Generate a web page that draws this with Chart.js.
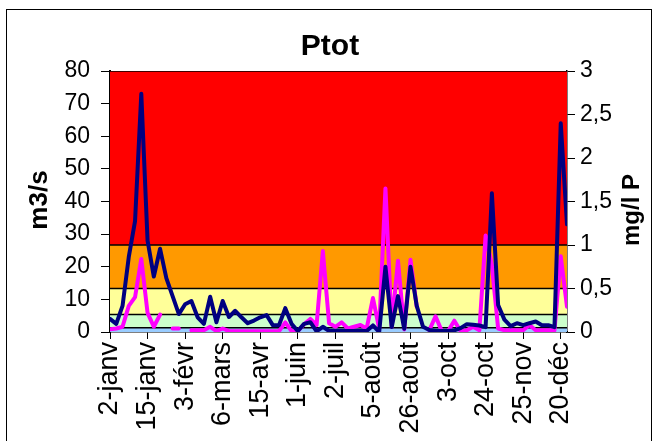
<!DOCTYPE html>
<html>
<head>
<meta charset="utf-8">
<script src="https://cdn.jsdelivr.net/npm/chart.js@4/dist/chart.umd.min.js"></script>
<style>
  html, body { margin: 0; padding: 0; background: #fff; }
  #wrap { width: 660px; height: 441px; position: relative; }
</style>
</head>
<body>
<div id="wrap"><canvas id="ptotCanvas"></canvas></div>
<script>
// dates shown on the x axis (one label every 6 samples)
const tickLabels = ['2-janv', '15-janv', '3-févr', '6-mars', '15-avr', '1-juin', '2-juil',
                    '5-août', '26-août', '3-oct', '24-oct', '25-nov', '20-déc'];

// débit (m3/s), left axis
const flow = [4, 2.5, 8, 23, 34, 73, 28, 17, 25.5, 16.5,
              11, 5.5, 8.5, 9.5, 4.5, 2.5, 10.8, 3, 9.5, 4.6,
              6.5, 4.5, 2.7, 3.5, 4.5, 5.2, 2.1, 2.1, 7.3, 2.5,
              0.3, 2.5, 3, 0.2, 1.6, 0.3, 0.3, 0.3, 0.3, 0.3,
              0.3, 0.3, 2, 0, 20, 1.5, 11, 1, 20, 8,
              1.6, 0.6, 0.3, 0.3, 0.3, 0.5, 1.2, 2.4, 2.2, 2,
              1.5, 42.5, 8.3, 3.8, 1.8, 2.7, 2.1, 2.7, 3.2, 2.1,
              2.1, 1.5, 64, 33];

// phosphore total (mg/l P), right axis - null = no sample
const ptot = [0.03, 0.04, 0.06, 0.3, 0.4, 0.84, 0.22, 0.06, 0.2, null,
              0.04, 0.04, null, 0.02, 0.02, 0.02, 0.06, 0.01, 0.04, 0.01,
              0.01, 0.01, 0.01, 0.01, 0.01, 0.01, 0.01, 0.01, 0.11, 0.01,
              0.01, 0.09, 0.15, 0.08, 0.93, 0.1, 0.06, 0.11, 0.04, 0.06,
              0.08, 0.04, 0.39, 0.04, 1.65, 0.06, 0.82, 0.03, 0.83, 0.29,
              null, 0.02, 0.18, 0.01, 0.01, 0.13, 0.01, 0.02, 0.06, 0.02,
              1.11, 0.77, 0.04, 0.02, 0.02, 0.02, 0.02, 0.08, 0.02, 0.02,
              0.02, 0.02, 0.87, 0.29];

// quality classes (upper limit in mg/l P) and their colours
const classLimits = [0.05, 0.2, 0.5, 1, 3];
const classColors = ['#99CCFF', '#CCFFCC', '#FFFF99', '#FF9900', '#FF0000'];

const FONT = '"Liberation Sans", Arial, sans-serif';
Chart.defaults.font.family = FONT;
Chart.defaults.color = '#000';

const toPoints = arr => arr.map((v, i) => ({ x: i, y: v }));

// class bands drawn as stacked areas on the right axis
const bandSets = classLimits.map((lim, k) => ({
  label: 'classe ' + k,
  data: flow.map((_, i) => ({ x: i, y: lim })),
  yAxisID: 'yP',
  borderColor: '#000',
  borderWidth: 1.5,
  backgroundColor: classColors[k],
  fill: k === 0 ? 'origin' : '-1',
  pointRadius: 0,
  order: 1
}));

// frame round the chart + the two axis titles (both read bottom to top)
const framePlugin = {
  id: 'framePlugin',
  afterDraw(chart) {
    const c = chart.ctx;
    c.save();
    c.strokeStyle = '#000';
    c.lineWidth = 1;
    c.strokeRect(6.5, 9.5, 645, 445);
    c.fillStyle = '#000';
    c.font = 'bold 26px ' + FONT;
    c.textAlign = 'center';
    c.textBaseline = 'middle';
    c.translate(40, 200);
    c.rotate(-Math.PI / 2);
    c.fillText('m3/s', 0, 0);
    c.restore();
    c.save();
    c.fillStyle = '#000';
    c.font = 'bold 24px ' + FONT;
    c.textAlign = 'center';
    c.textBaseline = 'middle';
    c.translate(632, 210);
    c.rotate(-Math.PI / 2);
    c.fillText('mg/l P', 0, 0);
    c.restore();
  }
};

function drawGraph() {
  const ctx = document.getElementById('ptotCanvas').getContext('2d');
  new Chart(ctx, {
    type: 'line',
    data: {
      datasets: [
        {
          label: 'm3/s',
          data: toPoints(flow),
          yAxisID: 'yQ',
          borderColor: '#000080',
          borderWidth: 4,
          pointRadius: 0,
          fill: false,
          borderJoinStyle: 'round',
          borderCapStyle: 'round',
          order: 0
        },
        {
          label: 'Ptot',
          data: toPoints(ptot),
          yAxisID: 'yP',
          borderColor: '#FF00FF',
          borderWidth: 4,
          pointRadius: 0,
          fill: false,
          spanGaps: false,
          borderJoinStyle: 'round',
          borderCapStyle: 'round',
          order: 0
        },
        ...bandSets
      ]
    },
    options: {
      responsive: true,
      maintainAspectRatio: false,
      animation: false,
      layout: { padding: 0 },
      plugins: {
        legend: { display: false },
        tooltip: { enabled: false },
        title: {
          display: true,
          text: 'Ptot',
          font: { size: 30, weight: 'bold' },
          color: '#000',
          padding: { top: 29, bottom: 6 }
        }
      },
      scales: {
        x: {
          type: 'linear',
          min: 0,
          max: flow.length - 1,
          afterFit: s => { s.height = 109; },
          border: { color: '#000', width: 1.5 },
          grid: { drawOnChartArea: false, color: '#000', tickLength: 7 },
          ticks: {
            stepSize: 6,
            includeBounds: false,
            autoSkip: false,
            minRotation: 90,
            maxRotation: 90,
            padding: 3,
            font: { size: 27 },
            callback: v => (v % 6 === 0 ? tickLabels[v / 6] : '')
          }
        },
        yQ: {
          position: 'left',
          min: 0,
          max: 80,
          afterFit: s => { s.width = 110; },
          border: { color: '#000', width: 2 },
          grid: { drawOnChartArea: false, color: '#000', tickLength: 9 },
          ticks: { stepSize: 10, padding: 11, font: { size: 23 } }
        },
        yP: {
          position: 'right',
          min: 0,
          max: 3,
          afterFit: s => { s.width = 93; },
          border: { color: '#000', width: 1.5 },
          grid: { drawOnChartArea: false, color: '#000', tickLength: 8 },
          ticks: {
            stepSize: 0.5,
            padding: 5,
            font: { size: 23 },
            callback: v => String(v).replace('.', ',')
          }
        }
      }
    },
    plugins: [framePlugin]
  });
}

drawGraph();
</script>
</body>
</html>
